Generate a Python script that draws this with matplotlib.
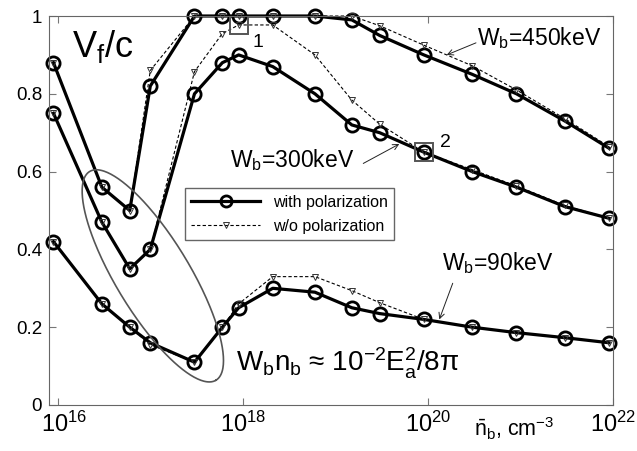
#/usr/bin/env python3
import matplotlib
matplotlib.use("Agg")
import matplotlib.pyplot as plt
import matplotlib.transforms as mtransforms
import numpy as np

plt.rcParams['font.family'] = ['Liberation Sans', 'DejaVu Sans']
plt.rcParams['mathtext.fontset'] = 'custom'
plt.rcParams['mathtext.rm'] = 'Liberation Sans'
plt.rcParams['mathtext.it'] = 'Liberation Sans:italic'
plt.rcParams['mathtext.bf'] = 'Liberation Sans:bold'

# densidad del haz, cm^-3 (misma malla para las tres energias)
n_b = [9e15, 3e16, 6e16, 1e17, 3e17, 6e17, 9e17, 2.1e18, 6e18,
       1.5e19, 3e19, 9e19, 3e20, 9e20, 3e21, 9e21]

# V_f/c con polarizacion
con_450 = [0.88, 0.56, 0.50, 0.82, 1.0, 1.0, 1.0, 1.0, 1.0,
           0.99, 0.95, 0.90, 0.85, 0.80, 0.73, 0.66]
con_300 = [0.75, 0.47, 0.35, 0.40, 0.80, 0.88, 0.90, 0.87, 0.80,
           0.72, 0.70, 0.65, 0.60, 0.56, 0.51, 0.48]
con_90 = [0.42, 0.26, 0.20, 0.16, 0.11, 0.20, 0.25, 0.30, 0.29,
          0.25, 0.235, 0.22, 0.20, 0.186, 0.173, 0.16]

# V_f/c sin polarizacion
sin_450 = [0.88, 0.56, 0.50, 0.86, 1.0, 1.0, 1.0, 1.0, 1.0,
           1.0, 0.975, 0.925, 0.872, 0.81, 0.736, 0.664]
sin_300 = [0.75, 0.47, 0.35, 0.40, 0.857, 0.955, 0.977, 0.977, 0.90,
           0.784, 0.722, 0.65, 0.605, 0.563, 0.513, 0.48]
sin_90 = [0.42, 0.26, 0.20, 0.155, 0.11, 0.20, 0.26, 0.33, 0.33,
          0.294, 0.263, 0.22, 0.20, 0.186, 0.173, 0.16]

x_ticks = [1e16, 1e18, 1e20, 1e22]
y_ticks = [0, 0.2, 0.4, 0.6, 0.8, 1]


def grafico():
    fig = plt.figure(figsize=(6.37, 4.51), dpi=100)
    ax = fig.add_axes([0.0769, 0.102, 0.8859, 0.8625])

    gris = '#555555'
    estilo_con = dict(color='black', lw=2.3, marker='o', ms=9.5, mew=2.0,
                      mfc='none', mec='black', clip_on=False)
    estilo_sin = dict(color='black', lw=0.8, ls=(0, (3, 2)), marker='v',
                      ms=4.5, mew=0.7, mfc='none', mec='#333333', clip_on=False)

    ax.plot(n_b, con_450, label='with polarization', **estilo_con)
    ax.plot(n_b, con_300, **estilo_con)
    ax.plot(n_b, con_90, **estilo_con)
    ax.plot(n_b, sin_450, label='w/o polarization', **estilo_sin)
    ax.plot(n_b, sin_300, **estilo_sin)
    ax.plot(n_b, sin_90, **estilo_sin)

    # cuadros 1 y 2
    ax.plot(n_b[6], sin_300[6], marker='s', ms=13.5, mfc='none', mec=gris, mew=1.4)
    ax.plot(n_b[11], con_300[11], marker='s', ms=13.5, mfc='none', mec=gris, mew=1.4)
    ax.text(10**18.106, 0.921, '1', fontsize=14)
    ax.text(10**20.128, 0.664, '2', fontsize=14)

    ax.set_xscale('log')
    ax.set_xlim(10**15.906, 1e22)
    ax.set_ylim(0, 1)
    ax.set_xticks(x_ticks)
    ax.set_yticks(y_ticks)
    ax.set_yticklabels(['0', '0.2', '0.4', '0.6', '0.8', '1'])
    ax.xaxis.set_minor_locator(matplotlib.ticker.NullLocator())
    ax.tick_params(direction='in', top=True, right=True, length=5,
                   width=0.8, color='#777777')
    ax.tick_params(axis='x', labelsize=17, pad=5)
    ax.tick_params(axis='y', labelsize=13.5, pad=5)
    for s in ax.spines.values():
        s.set_color('#666666')
        s.set_linewidth(0.8)
    # la primera etiqueta del eje x se corre un poco a la derecha
    desp = mtransforms.ScaledTranslation(6 / 100, 0, fig.dpi_scale_trans)
    primera = ax.get_xticklabels()[0]
    primera.set_transform(primera.get_transform() + desp)

    # textos
    ax.text(10**16.151, 0.894, r'V$_\mathrm{f}$/c', fontsize=26)
    ax.text(10**20.525, 0.925, r'W$_\mathrm{b}$=450keV', fontsize=16.5)
    ax.text(10**17.861, 0.6126, r'W$_\mathrm{b}$=300keV', fontsize=16.5)
    ax.text(10**20.147, 0.347, r'W$_\mathrm{b}$=90keV', fontsize=16.5)
    ax.text(10**17.925, 0.0856,
            'W$_\\mathrm{b}$n$_\\mathrm{b}$ \u2248 10$^{-2}$E$_\\mathrm{a}^2$/8\u03c0',
            fontsize=20)
    ax.text(10**20.496, -0.0815, r'$\bar{\mathrm{n}}_\mathrm{b}$, cm$^{-3}$',
            fontsize=15.5, clip_on=False)

    flecha = dict(arrowstyle='->', lw=0.7, color='#222222', shrinkA=0, shrinkB=0)
    ax.annotate('', xy=(10**20.201, 0.900), xytext=(10**20.517, 0.931), arrowprops=flecha)
    ax.annotate('', xy=(10**19.689, 0.671), xytext=(10**19.300, 0.621), arrowprops=flecha)
    ax.annotate('', xy=(10**20.121, 0.220), xytext=(10**20.266, 0.313), arrowprops=flecha)

    # elipse en coordenadas de ejes
    bbox = ax.get_position()
    aspecto = (bbox.height * 4.51) / (bbox.width * 6.37)
    t = np.linspace(0, 2 * np.pi, 300)
    cx, cy = 0.184, 0.332
    a, b = 0.3136, 0.0951
    phi = np.deg2rad(-58.8)
    ex = cx + (a * np.cos(t) * np.cos(phi) - b * np.sin(t) * np.sin(phi)) * aspecto
    ey = cy + (a * np.cos(t) * np.sin(phi) + b * np.sin(t) * np.cos(phi))
    ax.plot(ex, ey, color=gris, lw=1.2, transform=ax.transAxes)

    leg = ax.legend(loc='upper left', bbox_to_anchor=(0.241, 0.557),
                    borderaxespad=0, fontsize=11.5, numpoints=1,
                    handlelength=4.3, handletextpad=0.8, labelspacing=0.55,
                    borderpad=0.4, fancybox=False, framealpha=1)
    leg.get_frame().set_edgecolor('#666666')
    leg.get_frame().set_linewidth(1.0)
    for h in leg.legend_handles:
        if h.get_marker() == 'o':
            h.set_markersize(8)

    fig.savefig('out.png', dpi=100)


if __name__ == "__main__":
    grafico()
